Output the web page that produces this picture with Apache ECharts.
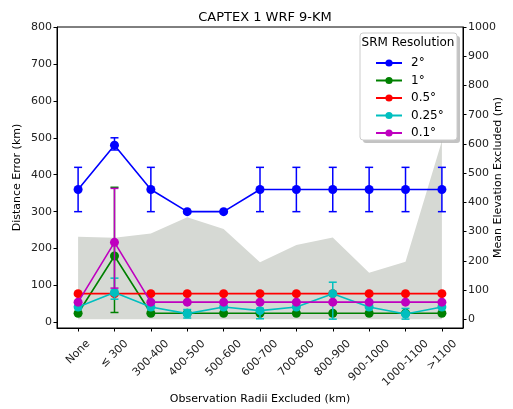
<!DOCTYPE html>
<html>
<head>
<meta charset="utf-8">
<script src="https://cdn.jsdelivr.net/npm/echarts@6/dist/echarts.min.js"></script>
<style>
html,body{margin:0;padding:0;background:#fff;}
#chart{width:513px;height:409px;}
</style>
</head>
<body>
<div id="chart"></div>
<script>
// ---- data ----
const categories = ['None', '\u2264 300', '300-400', '400-500', '500-600', '600-700', '700-800', '800-900', '900-1000', '1000-1100', '>1100'];
const leftTicks = [0, 100, 200, 300, 400, 500, 600, 700, 800];
const rightTicks = [0, 100, 200, 300, 400, 500, 600, 700, 800, 900, 1000];
const seriesNames = ['2\u00b0', '1\u00b0', '0.5\u00b0', '0.25\u00b0', '0.1\u00b0'];
const elevation = [282, 279, 293, 349, 309, 195, 254, 280, 159, 197, 610];

const res2 = [360, 480, 360, 300, 300, 360, 360, 360, 360, 360, 360];
const res2Low = [300, 467, 300, null, null, 300, 300, 300, 300, 300, 300];
const res2High = [420, 500, 420, null, null, 420, 420, 420, 420, 420, 420];

const res1 = [25, 180, 25, 25, 25, 25, 25, 25, 25, 25, 25];
const res1Low = [null, 27, null, null, null, null, null, null, null, null, null];
const res1High = [null, 366, null, null, null, null, null, null, null, null, null];

const res05 = [78, 78, 78, 78, 78, 78, 78, 78, 78, 78, 78];
const res05Low = [null, null, null, null, null, null, null, null, null, null, null];
const res05High = [null, null, null, null, null, null, null, null, null, null, null];

const res025 = [42, 81, 42, 24, 42, 32, 42, 78, 42, 23, 42];
const res025Low = [null, 63, null, 12, null, 10, null, 9, null, 9, null];
const res025High = [null, 120, null, 35, null, 38, null, 109, null, 38, null];

const res01 = [55, 217, 55, 55, 55, 55, 55, 55, 55, 55, 55];
const res01Low = [null, 93, null, null, null, null, null, null, null, null, null];
const res01High = [null, 363, null, null, null, null, null, null, null, null, null];

const colors = ['#0000ff', '#008000', '#ff0000', '#00bfbf', '#bf00bf'];
const values = [res2, res1, res05, res025, res01];
const lows = [res2Low, res1Low, res05Low, res025Low, res01Low];
const highs = [res2High, res1High, res05High, res025High, res01High];

// ---- chart ----
const FONT = 'DejaVu Sans';
const chart = echarts.init(document.getElementById('chart'), null, {renderer: 'canvas'});

function errRender(params, api) {
  const x = api.value(0), lo = api.value(1), hi = api.value(2);
  const p1 = api.coord([x, lo]), p2 = api.coord([x, hi]);
  const c = api.visual('color');
  const st = {stroke: c, lineWidth: 1.5};
  const w = 4;
  return {
    type: 'group',
    children: [
      {type: 'line', shape: {x1: p1[0], y1: p1[1], x2: p2[0], y2: p2[1]}, style: st},
      {type: 'line', shape: {x1: p1[0] - w, y1: p1[1], x2: p1[0] + w, y2: p1[1]}, style: st},
      {type: 'line', shape: {x1: p2[0] - w, y1: p2[1], x2: p2[0] + w, y2: p2[1]}, style: st}
    ]
  };
}

const series = [];
series.push({
  name: 'elev', type: 'line', yAxisIndex: 1,
  data: elevation.map((v, i) => [i, v]),
  showSymbol: false, symbol: 'none',
  lineStyle: {width: 0, color: '#d6d9d4'},
  itemStyle: {color: '#d6d9d4'},
  areaStyle: {color: '#d6d9d4', opacity: 1, origin: 0},
  z: 1, silent: true
});
for (let k = 0; k < 5; k++) {
  series.push({
    name: seriesNames[k], type: 'line', yAxisIndex: 0,
    data: values[k].map((v, i) => [i, v]),
    symbol: 'circle', symbolSize: 9,
    lineStyle: {width: 1.6, color: colors[k]},
    itemStyle: {color: colors[k]},
    z: 3 + k * 2, animation: false
  });
  const ed = [];
  for (let i = 0; i < categories.length; i++) {
    if (lows[k][i] !== null && highs[k][i] !== null) ed.push([i, lows[k][i], highs[k][i]]);
  }
  series.push({
    name: seriesNames[k], type: 'custom', yAxisIndex: 0,
    renderItem: errRender, data: ed,
    itemStyle: {color: colors[k]},
    encode: {x: 0, y: [1, 2]},
    z: 4 + k * 2, animation: false
  });
}

// rotated x labels centred under their ticks (matplotlib style):
// per-label spacer sizes from the measured text width
const cv = document.createElement('canvas').getContext('2d');
cv.font = '11px "DejaVu Sans"';
const rich = {};
categories.forEach((c, i) => {
  const L = cv.measureText(c).width;
  rich['h' + i] = {height: L / 2, width: 1, fontSize: 11, fontFamily: FONT};
  rich['t' + i] = {fontSize: 11, fontFamily: FONT, color: '#222', height: 13};
  rich['s' + i] = {width: L / 2, fontSize: 11, fontFamily: FONT, height: 13};
});
// blank guard labels at both ends so the end-label overlap check drops only a blank
const labelPositions = [-0.5].concat(categories.map((c, i) => i), [10.5]);

const tickLabelStyle = {fontFamily: FONT, fontSize: 11, color: '#222'};

chart.setOption({
  animation: false,
  title: {
    text: 'CAPTEX 1 WRF 9-KM', left: 260, top: 6, textAlign: 'center',
    textStyle: {fontFamily: FONT, fontSize: 13, fontWeight: 'normal', color: '#000'}
  },
  grid: {left: 57, right: 50, top: 27, bottom: 81, outerBoundsMode: 'none', containLabel: false,
         show: true, borderColor: '#000', borderWidth: 1, backgroundColor: 'transparent'},
  xAxis: {
    type: 'value', min: -0.58, max: 10.58,
    name: 'Observation Radii Excluded (km)', nameLocation: 'middle', nameGap: 66, nameMoveOverlap: false,
    nameTextStyle: {fontFamily: FONT, fontSize: 11, color: '#000'},
    splitLine: {show: false},
    axisLine: {show: true, onZero: false, lineStyle: {color: '#000'}},
    axisTick: {show: true, length: 3.5, lineStyle: {color: '#000'}, customValues: categories.map((c, i) => i)},
    axisLabel: {
      ...tickLabelStyle, rotate: 45, margin: 14, align: 'center', verticalAlign: 'middle',
      customValues: labelPositions,
      rich: rich,
      hideOverlap: false,
      formatter: v => {
        if (Math.abs(v - Math.round(v)) > 0.01) return ' ';
        const i = Math.round(v);
        return '{h' + i + '| }\n{t' + i + '|' + categories[i] + '}{s' + i + '| }';
      }
    }
  },
  yAxis: [
    {
      type: 'value', min: -15, max: 800, position: 'left',
      name: 'Distance Error (km)', nameLocation: 'middle', nameGap: 34, nameRotate: 90, nameMoveOverlap: false,
      nameTextStyle: {fontFamily: FONT, fontSize: 11, color: '#000'},
      splitLine: {show: false},
      axisLine: {show: true, onZero: false, lineStyle: {color: '#000'}},
      axisTick: {show: true, length: 3.5, lineStyle: {color: '#000'}, customValues: leftTicks},
      axisLabel: {...tickLabelStyle, margin: 5, customValues: leftTicks, formatter: v => String(v)}
    },
    {
      type: 'value', min: -30, max: 1000, position: 'right',
      name: 'Mean Elevation Excluded (m)', nameLocation: 'middle', nameGap: 30, nameRotate: 90, nameMoveOverlap: false,
      nameTextStyle: {fontFamily: FONT, fontSize: 11, color: '#000'},
      splitLine: {show: false},
      axisLine: {show: true, onZero: false, lineStyle: {color: '#000'}},
      axisTick: {show: true, length: 3.5, lineStyle: {color: '#000'}, customValues: rightTicks},
      axisLabel: {...tickLabelStyle, margin: 5, customValues: rightTicks, formatter: v => String(v)}
    }
  ],
  legend: {
    data: seriesNames, orient: 'vertical', left: 370, top: 52,
    itemWidth: 26, itemHeight: 9, itemGap: 5.5,
    textStyle: {fontFamily: FONT, fontSize: 12, color: '#000', padding: [0, 0, 0, 4]},
    z: 20
  },
  graphic: [
    {type: 'rect', shape: {x: 363, y: 36, width: 97, height: 107, r: 3}, style: {fill: '#888', opacity: 0.5}, z: 15},
    {type: 'rect', shape: {x: 360, y: 33, width: 97, height: 107, r: 3}, style: {fill: '#fff', stroke: '#ccc', lineWidth: 1}, z: 16},
    {type: 'text', x: 408, y: 37, style: {text: 'SRM Resolution', font: '12px "DejaVu Sans"', fill: '#000', textAlign: 'center'}, z: 17}
  ],
  series: series
});
</script>
</body>
</html>
